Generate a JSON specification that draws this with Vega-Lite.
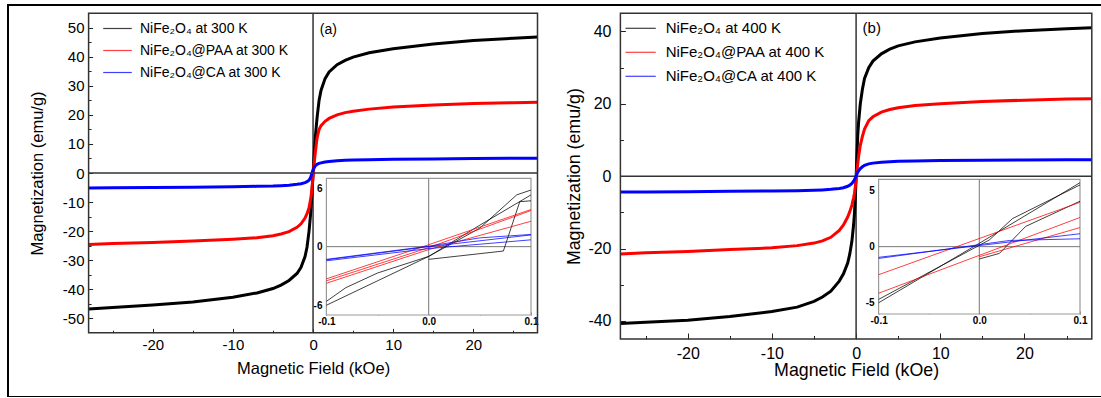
{
"$schema":"https://vega.github.io/schema/vega-lite/v6.json",
"width":1095,"height":392,
"autosize":{"type":"none"},
"padding":{"left":8,"top":5,"right":0,"bottom":0},
"background":"white",
"view":{"stroke":"#000","strokeWidth":2},
"config":{"font":"Liberation Sans",
 "locale":{"number":{"decimal":".","thousands":",","grouping":[3],"currency":["$",""],"minus":"-"}},
 "axis":{"zindex":1,"grid":false,"domain":false,"labelOverlap":false,"labelFlush":false,"tickColor":"#222","labelColor":"#000","titleColor":"#000","titleFontWeight":"normal","labelFont":"Liberation Sans","titleFont":"Liberation Sans"}},
"datasets":{
"A":[
{"s":"NiFe₂O₄ at 300 K","x":-28,"y":-46.8},{"s":"NiFe₂O₄ at 300 K","x":-25,"y":-46.3},{"s":"NiFe₂O₄ at 300 K","x":-20,"y":-45.5},{"s":"NiFe₂O₄ at 300 K","x":-15,"y":-44.4},{"s":"NiFe₂O₄ at 300 K","x":-10,"y":-42.8},{"s":"NiFe₂O₄ at 300 K","x":-7,"y":-41.3},{"s":"NiFe₂O₄ at 300 K","x":-5,"y":-39.8},{"s":"NiFe₂O₄ at 300 K","x":-4,"y":-38.6},{"s":"NiFe₂O₄ at 300 K","x":-3,"y":-37.0},{"s":"NiFe₂O₄ at 300 K","x":-2,"y":-34.6},{"s":"NiFe₂O₄ at 300 K","x":-1.5,"y":-32.5},{"s":"NiFe₂O₄ at 300 K","x":-1,"y":-28.8},{"s":"NiFe₂O₄ at 300 K","x":-0.75,"y":-25.5},{"s":"NiFe₂O₄ at 300 K","x":-0.5,"y":-20.0},{"s":"NiFe₂O₄ at 300 K","x":-0.3,"y":-14.0},{"s":"NiFe₂O₄ at 300 K","x":-0.2,"y":-10.0},{"s":"NiFe₂O₄ at 300 K","x":-0.1,"y":-5.5},{"s":"NiFe₂O₄ at 300 K","x":0,"y":-0.5},{"s":"NiFe₂O₄ at 300 K","x":0.1,"y":4.5},{"s":"NiFe₂O₄ at 300 K","x":0.2,"y":9.0},{"s":"NiFe₂O₄ at 300 K","x":0.3,"y":13.0},{"s":"NiFe₂O₄ at 300 K","x":0.5,"y":19.0},{"s":"NiFe₂O₄ at 300 K","x":0.75,"y":25.0},{"s":"NiFe₂O₄ at 300 K","x":1,"y":28.5},{"s":"NiFe₂O₄ at 300 K","x":1.5,"y":32.5},{"s":"NiFe₂O₄ at 300 K","x":2,"y":34.8},{"s":"NiFe₂O₄ at 300 K","x":3,"y":37.3},{"s":"NiFe₂O₄ at 300 K","x":4,"y":38.8},{"s":"NiFe₂O₄ at 300 K","x":5,"y":39.9},{"s":"NiFe₂O₄ at 300 K","x":7,"y":41.4},{"s":"NiFe₂O₄ at 300 K","x":10,"y":42.8},{"s":"NiFe₂O₄ at 300 K","x":15,"y":44.4},{"s":"NiFe₂O₄ at 300 K","x":20,"y":45.6},{"s":"NiFe₂O₄ at 300 K","x":25,"y":46.4},{"s":"NiFe₂O₄ at 300 K","x":28,"y":46.8},
{"s":"NiFe₂O₄@PAA at 300 K","x":-28,"y":-24.6},{"s":"NiFe₂O₄@PAA at 300 K","x":-25,"y":-24.3},{"s":"NiFe₂O₄@PAA at 300 K","x":-20,"y":-23.9},{"s":"NiFe₂O₄@PAA at 300 K","x":-15,"y":-23.4},{"s":"NiFe₂O₄@PAA at 300 K","x":-10,"y":-22.8},{"s":"NiFe₂O₄@PAA at 300 K","x":-7,"y":-22.3},{"s":"NiFe₂O₄@PAA at 300 K","x":-5,"y":-21.6},{"s":"NiFe₂O₄@PAA at 300 K","x":-4,"y":-21.0},{"s":"NiFe₂O₄@PAA at 300 K","x":-3,"y":-20.2},{"s":"NiFe₂O₄@PAA at 300 K","x":-2,"y":-18.7},{"s":"NiFe₂O₄@PAA at 300 K","x":-1.5,"y":-17.5},{"s":"NiFe₂O₄@PAA at 300 K","x":-1,"y":-15.5},{"s":"NiFe₂O₄@PAA at 300 K","x":-0.75,"y":-14.0},{"s":"NiFe₂O₄@PAA at 300 K","x":-0.5,"y":-12.0},{"s":"NiFe₂O₄@PAA at 300 K","x":-0.3,"y":-9.0},{"s":"NiFe₂O₄@PAA at 300 K","x":-0.2,"y":-7.0},{"s":"NiFe₂O₄@PAA at 300 K","x":-0.1,"y":-4.0},{"s":"NiFe₂O₄@PAA at 300 K","x":0,"y":-1.0},{"s":"NiFe₂O₄@PAA at 300 K","x":0.1,"y":2.5},{"s":"NiFe₂O₄@PAA at 300 K","x":0.2,"y":5.0},{"s":"NiFe₂O₄@PAA at 300 K","x":0.3,"y":7.5},{"s":"NiFe₂O₄@PAA at 300 K","x":0.5,"y":12.0},{"s":"NiFe₂O₄@PAA at 300 K","x":0.75,"y":15.0},{"s":"NiFe₂O₄@PAA at 300 K","x":1,"y":16.3},{"s":"NiFe₂O₄@PAA at 300 K","x":1.5,"y":17.8},{"s":"NiFe₂O₄@PAA at 300 K","x":2,"y":18.8},{"s":"NiFe₂O₄@PAA at 300 K","x":3,"y":20.0},{"s":"NiFe₂O₄@PAA at 300 K","x":4,"y":20.8},{"s":"NiFe₂O₄@PAA at 300 K","x":5,"y":21.3},{"s":"NiFe₂O₄@PAA at 300 K","x":7,"y":22.0},{"s":"NiFe₂O₄@PAA at 300 K","x":10,"y":22.7},{"s":"NiFe₂O₄@PAA at 300 K","x":15,"y":23.4},{"s":"NiFe₂O₄@PAA at 300 K","x":20,"y":23.9},{"s":"NiFe₂O₄@PAA at 300 K","x":25,"y":24.2},{"s":"NiFe₂O₄@PAA at 300 K","x":28,"y":24.4},
{"s":"NiFe₂O₄@CA at 300 K","x":-28,"y":-5.2},{"s":"NiFe₂O₄@CA at 300 K","x":-25,"y":-5.1},{"s":"NiFe₂O₄@CA at 300 K","x":-20,"y":-5.0},{"s":"NiFe₂O₄@CA at 300 K","x":-15,"y":-4.9},{"s":"NiFe₂O₄@CA at 300 K","x":-10,"y":-4.75},{"s":"NiFe₂O₄@CA at 300 K","x":-7,"y":-4.6},{"s":"NiFe₂O₄@CA at 300 K","x":-5,"y":-4.5},{"s":"NiFe₂O₄@CA at 300 K","x":-4,"y":-4.35},{"s":"NiFe₂O₄@CA at 300 K","x":-3,"y":-4.2},{"s":"NiFe₂O₄@CA at 300 K","x":-2,"y":-3.9},{"s":"NiFe₂O₄@CA at 300 K","x":-1.5,"y":-3.7},{"s":"NiFe₂O₄@CA at 300 K","x":-1,"y":-3.3},{"s":"NiFe₂O₄@CA at 300 K","x":-0.75,"y":-3.0},{"s":"NiFe₂O₄@CA at 300 K","x":-0.5,"y":-2.5},{"s":"NiFe₂O₄@CA at 300 K","x":-0.3,"y":-1.5},{"s":"NiFe₂O₄@CA at 300 K","x":-0.2,"y":-0.6},{"s":"NiFe₂O₄@CA at 300 K","x":-0.1,"y":0.3},{"s":"NiFe₂O₄@CA at 300 K","x":0,"y":1.0},{"s":"NiFe₂O₄@CA at 300 K","x":0.1,"y":1.6},{"s":"NiFe₂O₄@CA at 300 K","x":0.2,"y":2.1},{"s":"NiFe₂O₄@CA at 300 K","x":0.3,"y":2.5},{"s":"NiFe₂O₄@CA at 300 K","x":0.5,"y":3.0},{"s":"NiFe₂O₄@CA at 300 K","x":0.75,"y":3.3},{"s":"NiFe₂O₄@CA at 300 K","x":1,"y":3.5},{"s":"NiFe₂O₄@CA at 300 K","x":1.5,"y":3.8},{"s":"NiFe₂O₄@CA at 300 K","x":2,"y":3.95},{"s":"NiFe₂O₄@CA at 300 K","x":3,"y":4.2},{"s":"NiFe₂O₄@CA at 300 K","x":4,"y":4.35},{"s":"NiFe₂O₄@CA at 300 K","x":5,"y":4.45},{"s":"NiFe₂O₄@CA at 300 K","x":7,"y":4.6},{"s":"NiFe₂O₄@CA at 300 K","x":10,"y":4.7},{"s":"NiFe₂O₄@CA at 300 K","x":15,"y":4.85},{"s":"NiFe₂O₄@CA at 300 K","x":20,"y":5.0},{"s":"NiFe₂O₄@CA at 300 K","x":25,"y":5.05},{"s":"NiFe₂O₄@CA at 300 K","x":28,"y":5.1}
],
"B":[
{"s":"NiFe₂O₄ at 400 K","x":-28,"y":-40.7},{"s":"NiFe₂O₄ at 400 K","x":-25,"y":-40.4},{"s":"NiFe₂O₄ at 400 K","x":-20,"y":-39.8},{"s":"NiFe₂O₄ at 400 K","x":-15,"y":-38.8},{"s":"NiFe₂O₄ at 400 K","x":-10,"y":-37.4},{"s":"NiFe₂O₄ at 400 K","x":-7,"y":-36.2},{"s":"NiFe₂O₄ at 400 K","x":-5,"y":-34.6},{"s":"NiFe₂O₄ at 400 K","x":-4,"y":-33.4},{"s":"NiFe₂O₄ at 400 K","x":-3,"y":-31.8},{"s":"NiFe₂O₄ at 400 K","x":-2,"y":-29.0},{"s":"NiFe₂O₄ at 400 K","x":-1.5,"y":-27.0},{"s":"NiFe₂O₄ at 400 K","x":-1,"y":-24.0},{"s":"NiFe₂O₄ at 400 K","x":-0.75,"y":-21.5},{"s":"NiFe₂O₄ at 400 K","x":-0.5,"y":-18.0},{"s":"NiFe₂O₄ at 400 K","x":-0.3,"y":-13.5},{"s":"NiFe₂O₄ at 400 K","x":-0.2,"y":-10.5},{"s":"NiFe₂O₄ at 400 K","x":-0.1,"y":-6.0},{"s":"NiFe₂O₄ at 400 K","x":0,"y":-0.5},{"s":"NiFe₂O₄ at 400 K","x":0.1,"y":6.0},{"s":"NiFe₂O₄ at 400 K","x":0.2,"y":11.5},{"s":"NiFe₂O₄ at 400 K","x":0.3,"y":15.0},{"s":"NiFe₂O₄ at 400 K","x":0.5,"y":20.0},{"s":"NiFe₂O₄ at 400 K","x":0.75,"y":24.0},{"s":"NiFe₂O₄ at 400 K","x":1,"y":27.0},{"s":"NiFe₂O₄ at 400 K","x":1.5,"y":30.0},{"s":"NiFe₂O₄ at 400 K","x":2,"y":31.8},{"s":"NiFe₂O₄ at 400 K","x":3,"y":33.8},{"s":"NiFe₂O₄ at 400 K","x":4,"y":35.1},{"s":"NiFe₂O₄ at 400 K","x":5,"y":36.0},{"s":"NiFe₂O₄ at 400 K","x":7,"y":37.1},{"s":"NiFe₂O₄ at 400 K","x":10,"y":38.2},{"s":"NiFe₂O₄ at 400 K","x":15,"y":39.4},{"s":"NiFe₂O₄ at 400 K","x":20,"y":40.2},{"s":"NiFe₂O₄ at 400 K","x":25,"y":40.7},{"s":"NiFe₂O₄ at 400 K","x":28,"y":41.0},
{"s":"NiFe₂O₄@PAA at 400 K","x":-28,"y":-21.5},{"s":"NiFe₂O₄@PAA at 400 K","x":-25,"y":-21.2},{"s":"NiFe₂O₄@PAA at 400 K","x":-20,"y":-20.8},{"s":"NiFe₂O₄@PAA at 400 K","x":-15,"y":-20.3},{"s":"NiFe₂O₄@PAA at 400 K","x":-10,"y":-19.8},{"s":"NiFe₂O₄@PAA at 400 K","x":-7,"y":-19.2},{"s":"NiFe₂O₄@PAA at 400 K","x":-5,"y":-18.5},{"s":"NiFe₂O₄@PAA at 400 K","x":-4,"y":-17.9},{"s":"NiFe₂O₄@PAA at 400 K","x":-3,"y":-16.9},{"s":"NiFe₂O₄@PAA at 400 K","x":-2,"y":-15.0},{"s":"NiFe₂O₄@PAA at 400 K","x":-1.5,"y":-13.5},{"s":"NiFe₂O₄@PAA at 400 K","x":-1,"y":-11.3},{"s":"NiFe₂O₄@PAA at 400 K","x":-0.75,"y":-9.8},{"s":"NiFe₂O₄@PAA at 400 K","x":-0.5,"y":-8.0},{"s":"NiFe₂O₄@PAA at 400 K","x":-0.3,"y":-6.0},{"s":"NiFe₂O₄@PAA at 400 K","x":-0.2,"y":-4.8},{"s":"NiFe₂O₄@PAA at 400 K","x":-0.1,"y":-3.0},{"s":"NiFe₂O₄@PAA at 400 K","x":0,"y":-1.0},{"s":"NiFe₂O₄@PAA at 400 K","x":0.1,"y":1.5},{"s":"NiFe₂O₄@PAA at 400 K","x":0.2,"y":3.5},{"s":"NiFe₂O₄@PAA at 400 K","x":0.3,"y":5.5},{"s":"NiFe₂O₄@PAA at 400 K","x":0.5,"y":8.5},{"s":"NiFe₂O₄@PAA at 400 K","x":0.75,"y":11.0},{"s":"NiFe₂O₄@PAA at 400 K","x":1,"y":13.0},{"s":"NiFe₂O₄@PAA at 400 K","x":1.5,"y":15.3},{"s":"NiFe₂O₄@PAA at 400 K","x":2,"y":16.4},{"s":"NiFe₂O₄@PAA at 400 K","x":3,"y":17.7},{"s":"NiFe₂O₄@PAA at 400 K","x":4,"y":18.4},{"s":"NiFe₂O₄@PAA at 400 K","x":5,"y":18.9},{"s":"NiFe₂O₄@PAA at 400 K","x":7,"y":19.5},{"s":"NiFe₂O₄@PAA at 400 K","x":10,"y":20.0},{"s":"NiFe₂O₄@PAA at 400 K","x":15,"y":20.6},{"s":"NiFe₂O₄@PAA at 400 K","x":20,"y":21.0},{"s":"NiFe₂O₄@PAA at 400 K","x":25,"y":21.3},{"s":"NiFe₂O₄@PAA at 400 K","x":28,"y":21.4},
{"s":"NiFe₂O₄@CA at 400 K","x":-28,"y":-4.4},{"s":"NiFe₂O₄@CA at 400 K","x":-25,"y":-4.35},{"s":"NiFe₂O₄@CA at 400 K","x":-20,"y":-4.3},{"s":"NiFe₂O₄@CA at 400 K","x":-15,"y":-4.2},{"s":"NiFe₂O₄@CA at 400 K","x":-10,"y":-4.1},{"s":"NiFe₂O₄@CA at 400 K","x":-7,"y":-4.0},{"s":"NiFe₂O₄@CA at 400 K","x":-5,"y":-3.9},{"s":"NiFe₂O₄@CA at 400 K","x":-4,"y":-3.8},{"s":"NiFe₂O₄@CA at 400 K","x":-3,"y":-3.65},{"s":"NiFe₂O₄@CA at 400 K","x":-2,"y":-3.4},{"s":"NiFe₂O₄@CA at 400 K","x":-1.5,"y":-3.2},{"s":"NiFe₂O₄@CA at 400 K","x":-1,"y":-2.8},{"s":"NiFe₂O₄@CA at 400 K","x":-0.75,"y":-2.5},{"s":"NiFe₂O₄@CA at 400 K","x":-0.5,"y":-2.0},{"s":"NiFe₂O₄@CA at 400 K","x":-0.3,"y":-1.4},{"s":"NiFe₂O₄@CA at 400 K","x":-0.2,"y":-1.0},{"s":"NiFe₂O₄@CA at 400 K","x":-0.1,"y":-0.5},{"s":"NiFe₂O₄@CA at 400 K","x":0,"y":0.0},{"s":"NiFe₂O₄@CA at 400 K","x":0.1,"y":0.6},{"s":"NiFe₂O₄@CA at 400 K","x":0.2,"y":1.1},{"s":"NiFe₂O₄@CA at 400 K","x":0.3,"y":1.5},{"s":"NiFe₂O₄@CA at 400 K","x":0.5,"y":2.1},{"s":"NiFe₂O₄@CA at 400 K","x":0.75,"y":2.6},{"s":"NiFe₂O₄@CA at 400 K","x":1,"y":3.0},{"s":"NiFe₂O₄@CA at 400 K","x":1.5,"y":3.4},{"s":"NiFe₂O₄@CA at 400 K","x":2,"y":3.6},{"s":"NiFe₂O₄@CA at 400 K","x":3,"y":3.85},{"s":"NiFe₂O₄@CA at 400 K","x":4,"y":4.0},{"s":"NiFe₂O₄@CA at 400 K","x":5,"y":4.1},{"s":"NiFe₂O₄@CA at 400 K","x":7,"y":4.2},{"s":"NiFe₂O₄@CA at 400 K","x":10,"y":4.3},{"s":"NiFe₂O₄@CA at 400 K","x":15,"y":4.4},{"s":"NiFe₂O₄@CA at 400 K","x":20,"y":4.45},{"s":"NiFe₂O₄@CA at 400 K","x":25,"y":4.5},{"s":"NiFe₂O₄@CA at 400 K","x":28,"y":4.5}
],
"IA":[
{"s":"NiFe₂O₄ at 300 K","p":"a1","i":0,"x":-0.1,"y":-5.6},{"s":"NiFe₂O₄ at 300 K","p":"a1","i":1,"x":-0.081,"y":-4.2},{"s":"NiFe₂O₄ at 300 K","p":"a1","i":2,"x":-0.05,"y":-2.7},{"s":"NiFe₂O₄ at 300 K","p":"a1","i":3,"x":0,"y":-1.0},{"s":"NiFe₂O₄ at 300 K","p":"a1","i":4,"x":0.05,"y":1.9},{"s":"NiFe₂O₄ at 300 K","p":"a1","i":5,"x":0.086,"y":5.3},{"s":"NiFe₂O₄ at 300 K","p":"a1","i":6,"x":0.1,"y":5.8},
{"s":"NiFe₂O₄ at 300 K","p":"a2","i":0,"x":-0.1,"y":-6.0},{"s":"NiFe₂O₄ at 300 K","p":"a2","i":1,"x":-0.05,"y":-3.5},{"s":"NiFe₂O₄ at 300 K","p":"a2","i":2,"x":0,"y":-1.0},{"s":"NiFe₂O₄ at 300 K","p":"a2","i":3,"x":0.05,"y":2.2},{"s":"NiFe₂O₄ at 300 K","p":"a2","i":4,"x":0.1,"y":5.3},
{"s":"NiFe₂O₄ at 300 K","p":"a3","i":0,"x":0,"y":-1.3},{"s":"NiFe₂O₄ at 300 K","p":"a3","i":1,"x":0.073,"y":-0.45},{"s":"NiFe₂O₄ at 300 K","p":"a3","i":2,"x":0.089,"y":4.6},{"s":"NiFe₂O₄ at 300 K","p":"a3","i":3,"x":0.1,"y":4.7},
{"s":"NiFe₂O₄@PAA at 300 K","p":"a4","i":0,"x":-0.1,"y":-3.3},{"s":"NiFe₂O₄@PAA at 300 K","p":"a4","i":1,"x":0,"y":0.2},{"s":"NiFe₂O₄@PAA at 300 K","p":"a4","i":2,"x":0.1,"y":3.8},
{"s":"NiFe₂O₄@PAA at 300 K","p":"a5","i":0,"x":-0.1,"y":-3.5},{"s":"NiFe₂O₄@PAA at 300 K","p":"a5","i":1,"x":0,"y":-0.1},{"s":"NiFe₂O₄@PAA at 300 K","p":"a5","i":2,"x":0.05,"y":1.8},{"s":"NiFe₂O₄@PAA at 300 K","p":"a5","i":3,"x":0.1,"y":3.7},
{"s":"NiFe₂O₄@PAA at 300 K","p":"a6","i":0,"x":-0.1,"y":-3.75},{"s":"NiFe₂O₄@PAA at 300 K","p":"a6","i":1,"x":0,"y":-0.3},{"s":"NiFe₂O₄@PAA at 300 K","p":"a6","i":2,"x":0.1,"y":2.6},
{"s":"NiFe₂O₄@CA at 300 K","p":"a7","i":0,"x":-0.1,"y":-1.3},{"s":"NiFe₂O₄@CA at 300 K","p":"a7","i":1,"x":0,"y":0.05},{"s":"NiFe₂O₄@CA at 300 K","p":"a7","i":2,"x":0.05,"y":0.9},{"s":"NiFe₂O₄@CA at 300 K","p":"a7","i":3,"x":0.1,"y":1.25},
{"s":"NiFe₂O₄@CA at 300 K","p":"a8","i":0,"x":-0.1,"y":-1.45},{"s":"NiFe₂O₄@CA at 300 K","p":"a8","i":1,"x":0,"y":-0.2},{"s":"NiFe₂O₄@CA at 300 K","p":"a8","i":2,"x":0.1,"y":0.7},
{"s":"NiFe₂O₄@CA at 300 K","p":"a9","i":0,"x":-0.1,"y":-1.35},{"s":"NiFe₂O₄@CA at 300 K","p":"a9","i":1,"x":0,"y":0.0},{"s":"NiFe₂O₄@CA at 300 K","p":"a9","i":2,"x":0.1,"y":1.2}
],
"IB":[
{"s":"NiFe₂O₄ at 400 K","p":"b1","i":0,"x":-0.1,"y":-5.0},{"s":"NiFe₂O₄ at 400 K","p":"b1","i":1,"x":0,"y":0.3},{"s":"NiFe₂O₄ at 400 K","p":"b1","i":2,"x":0.1,"y":5.7},
{"s":"NiFe₂O₄ at 400 K","p":"b2","i":0,"x":-0.1,"y":-4.7},{"s":"NiFe₂O₄ at 400 K","p":"b2","i":1,"x":0.01,"y":0.6},{"s":"NiFe₂O₄ at 400 K","p":"b2","i":2,"x":0.033,"y":2.5},{"s":"NiFe₂O₄ at 400 K","p":"b2","i":3,"x":0.1,"y":5.5},
{"s":"NiFe₂O₄ at 400 K","p":"b3","i":0,"x":0,"y":-1.1},{"s":"NiFe₂O₄ at 400 K","p":"b3","i":1,"x":0.02,"y":-0.6},{"s":"NiFe₂O₄ at 400 K","p":"b3","i":2,"x":0.046,"y":1.8},{"s":"NiFe₂O₄ at 400 K","p":"b3","i":3,"x":0.1,"y":4.05},
{"s":"NiFe₂O₄@PAA at 400 K","p":"b4","i":0,"x":-0.1,"y":-2.5},{"s":"NiFe₂O₄@PAA at 400 K","p":"b4","i":1,"x":0.1,"y":3.95},
{"s":"NiFe₂O₄@PAA at 400 K","p":"b5","i":0,"x":-0.1,"y":-4.15},{"s":"NiFe₂O₄@PAA at 400 K","p":"b5","i":1,"x":0.1,"y":2.6},
{"s":"NiFe₂O₄@PAA at 400 K","p":"b6","i":0,"x":0,"y":-0.9},{"s":"NiFe₂O₄@PAA at 400 K","p":"b6","i":1,"x":0.1,"y":1.7},
{"s":"NiFe₂O₄@CA at 400 K","p":"b7","i":0,"x":-0.1,"y":-0.95},{"s":"NiFe₂O₄@CA at 400 K","p":"b7","i":1,"x":0.1,"y":1.15},
{"s":"NiFe₂O₄@CA at 400 K","p":"b8","i":0,"x":-0.1,"y":-1.05},{"s":"NiFe₂O₄@CA at 400 K","p":"b8","i":1,"x":0.03,"y":0.55},{"s":"NiFe₂O₄@CA at 400 K","p":"b8","i":2,"x":0.1,"y":0.7}
]
},
"layer":[
{
 "layer":[
  {"layer":[
   {"data":{"values":[{}]},"mark":{"type":"rule","color":"#333","strokeWidth":1.5},"encoding":{"x":{"datum":0,"type":"quantitative"},"y":{"datum":-55,"type":"quantitative"},"y2":{"datum":55}}},
   {"data":{"name":"A"},"mark":{"type":"line","strokeWidth":3},"encoding":{
     "x":{"field":"x","type":"quantitative","scale":{"domain":[-28,28],"range":[80.6,529.5],"nice":false,"zero":false},
          "axis":{"orient":"bottom","offset":-64.3,"values":[-20,-10,0,10,20],"labelOverlap":false,"tickSize":-4.3,"labelPadding":9,"labelFontSize":15,"title":"Magnetic Field (kOe)","titleFontSize":16.5,"titlePadding":8}},
     "y":{"field":"y","type":"quantitative","scale":{"domain":[-55,55],"range":[327.7,8.3],"nice":false,"zero":false},
          "axis":{"orient":"left","offset":-80.6,"values":[-50,-30,-10,10,30,50],"labelOverlap":false,"tickSize":-4,"labelPadding":8.6,"labelFontSize":15,"title":"Magnetization (emu/g)","titleFontSize":16.5,"titlePadding":17}},
     "color":{"field":"s","type":"nominal","scale":{"domain":["NiFe₂O₄ at 300 K","NiFe₂O₄@PAA at 300 K","NiFe₂O₄@CA at 300 K"],"range":["#000000","#ff0000","#0000ff"]},
          "legend":{"orient":"none","legendX":94.5,"legendY":8.5,"title":null,"symbolType":"stroke","symbolSize":818,"symbolStrokeWidth":1.2,"labelFontSize":14,"labelOffset":7.5,"padding":0,"rowPadding":-12,"labelFont":"Liberation Sans"}}}},
   {"data":{"values":[{}]},"mark":{"type":"text","fontSize":14,"text":"(a)","align":"center","baseline":"middle"},"encoding":{"x":{"datum":1.9,"type":"quantitative"},"y":{"datum":49.3,"type":"quantitative"}}}
  ]},
  {"data":{"values":[{}]},"mark":{"type":"rule","color":"#333","strokeWidth":1.5},"encoding":{
     "x":{"datum":-28,"type":"quantitative","scale":{"domain":[-28,28],"range":[80.6,529.5],"nice":false,"zero":false},"axis":null},
     "x2":{"datum":28},
     "y":{"datum":0,"type":"quantitative","scale":{"domain":[-55,55],"range":[327.7,8.3],"nice":false,"zero":false},"axis":{"orient":"left","offset":-80.6,"values":[-40,-20,0,20,40],"labelOverlap":false,"tickSize":-4,"labelPadding":8.6,"labelFontSize":15,"title":null}}}},
  {"data":{"values":[{}]},"mark":{"type":"rect","filled":false,"color":"#333","strokeWidth":1.5},"encoding":{
     "x":{"datum":-28,"type":"quantitative","scale":{"domain":[-28,28],"range":[80.6,529.5],"nice":false,"zero":false},"axis":{"orient":"bottom","offset":-64.3,"values":[-25,-15,-5,5,15,25],"tickSize":-2.5,"labels":false,"title":null}},
     "x2":{"datum":28},
     "y":{"datum":-55,"type":"quantitative","scale":{"domain":[-55,55],"range":[327.7,8.3],"nice":false,"zero":false},"axis":{"orient":"left","offset":-80.6,"values":[-45,-35,-25,-15,-5,5,15,25,35,45],"tickSize":-2.5,"labels":false,"title":null}},
     "y2":{"datum":55}}},
  {"layer":[
    {"data":{"values":[{}]},"mark":{"type":"rect","fill":"white","stroke":"#999","strokeWidth":1.2},"encoding":{
      "x":{"datum":-0.1,"type":"quantitative","scale":{"domain":[-0.1,0.1],"range":[318.4,523],"nice":false,"zero":false},"axis":{"orient":"bottom","offset":-82,"values":[-0.05,0.05],"tickSize":-2,"labels":false,"title":null,"tickColor":"#888"}},
      "x2":{"datum":0.1},
      "y":{"datum":-7,"type":"quantitative","scale":{"domain":[-7,7],"range":[310,173.3],"nice":false,"zero":false},"axis":{"orient":"left","offset":-318.4,"values":[-3,3],"tickSize":-2,"labels":false,"title":null,"tickColor":"#888"}},
      "y2":{"datum":7}}},
    {"layer":[
      {"data":{"values":[{}]},"mark":{"type":"rule","color":"#777","strokeWidth":1},"encoding":{"x":{"datum":-0.1,"type":"quantitative"},"x2":{"datum":0.1},"y":{"datum":0,"type":"quantitative"}}},
      {"data":{"values":[{}]},"mark":{"type":"rule","color":"#777","strokeWidth":1},"encoding":{"x":{"datum":0,"type":"quantitative"},"y":{"datum":-7,"type":"quantitative"},"y2":{"datum":7}}},
      {"data":{"name":"IA"},"mark":{"type":"line","strokeWidth":1,"opacity":0.75},"encoding":{
        "x":{"field":"x","type":"quantitative","scale":{"domain":[-0.1,0.1],"range":[318.4,523],"nice":false,"zero":false},"axis":{"orient":"bottom","offset":-82,"values":[-0.1,0,0.1],"labelOverlap":false,"format":".1f","tickSize":-3,"labelPadding":4,"labelFontSize":10,"labelFontWeight":"bold","title":null,"tickColor":"#888"}},
        "y":{"field":"y","type":"quantitative","scale":{"domain":[-7,7],"range":[310,173.3],"nice":false,"zero":false},"axis":{"orient":"left","offset":-318.4,"values":[-6,0,6],"labelOverlap":false,"format":"d","tickSize":-3,"labelPadding":7.4,"labelFontSize":10,"labelFontWeight":"bold","title":null,"tickColor":"#888"}},
        "color":{"field":"s","type":"nominal"},
        "detail":{"field":"p"},
        "order":{"field":"i","type":"quantitative"}}}
    ]}
   ],
   "resolve":{"scale":{"x":"independent","y":"independent"}}}
 ],
 "resolve":{"scale":{"x":"independent","y":"independent"}}
},
{
 "layer":[
  {"layer":[
   {"data":{"values":[{}]},"mark":{"type":"rule","color":"#333","strokeWidth":1.5},"encoding":{"x":{"datum":-28,"type":"quantitative"},"x2":{"datum":28},"y":{"datum":0,"type":"quantitative"}}},
   {"data":{"values":[{}]},"mark":{"type":"rule","color":"#333","strokeWidth":1.5},"encoding":{"x":{"datum":0,"type":"quantitative"},"y":{"datum":-45,"type":"quantitative"},"y2":{"datum":45}}},
   {"data":{"name":"B"},"mark":{"type":"line","strokeWidth":3},"encoding":{
     "x":{"field":"x","type":"quantitative","scale":{"domain":[-28,28],"range":[612.4,1083.8],"nice":false,"zero":false},
          "axis":{"orient":"bottom","offset":-58,"values":[-20,-10,0,10,20],"labelOverlap":false,"tickSize":-6,"labelPadding":12,"labelFontSize":16,"title":"Magnetic Field (kOe)","titleFontSize":17.8,"titlePadding":0}},
     "y":{"field":"y","type":"quantitative","scale":{"domain":[-45,45],"range":[334,8.3],"nice":false,"zero":false},
          "axis":{"orient":"left","offset":-612.4,"values":[-40,-20,0,20,40],"labelOverlap":false,"tickSize":-5,"labelPadding":14.4,"labelFontSize":16,"title":"Magnetization (emu/g)","titleFontSize":17.8,"titlePadding":4}},
     "color":{"field":"s","type":"nominal","scale":{"domain":["NiFe₂O₄ at 400 K","NiFe₂O₄@PAA at 400 K","NiFe₂O₄@CA at 400 K"],"range":["#000000","#ff0000","#0000ff"]},
          "legend":{"orient":"none","legendX":616.6,"legendY":7.3,"title":null,"symbolType":"stroke","symbolSize":918,"symbolStrokeWidth":1.2,"labelFontSize":15,"labelOffset":9.1,"padding":0,"rowPadding":-20,"labelFont":"Liberation Sans"}}}},
   {"data":{"values":[{}]},"mark":{"type":"text","fontSize":15,"text":"(b)","align":"center","baseline":"middle"},"encoding":{"x":{"datum":1.86,"type":"quantitative"},"y":{"datum":40.8,"type":"quantitative"}}}
  ]},
  {"data":{"values":[{}]},"mark":{"type":"rect","filled":false,"color":"#333","strokeWidth":1.5},"encoding":{
     "x":{"datum":-28,"type":"quantitative","scale":{"domain":[-28,28],"range":[612.4,1083.8],"nice":false,"zero":false},"axis":{"orient":"bottom","offset":-58,"values":[-25,-15,-5,5,15,25],"tickSize":-3.5,"labels":false,"title":null}},
     "x2":{"datum":28},
     "y":{"datum":-45,"type":"quantitative","scale":{"domain":[-45,45],"range":[334,8.3],"nice":false,"zero":false},"axis":{"orient":"left","offset":-612.4,"values":[-30,-10,10,30],"tickSize":-3,"labels":false,"title":null}},
     "y2":{"datum":45}}},
  {"layer":[
    {"data":{"values":[{}]},"mark":{"type":"rect","fill":"white","stroke":"#999","strokeWidth":1.2},"encoding":{
      "x":{"datum":-0.1,"type":"quantitative","scale":{"domain":[-0.1,0.1],"range":[870.6,1072],"nice":false,"zero":false},"axis":{"orient":"bottom","offset":-83,"values":[-0.05,0.05],"tickSize":-2,"labels":false,"title":null,"tickColor":"#888"}},
      "x2":{"datum":0.1},
      "y":{"datum":-6,"type":"quantitative","scale":{"domain":[-6,6],"range":[309,174.3],"nice":false,"zero":false},"axis":{"orient":"left","offset":-870.6,"values":[-2.5,2.5],"tickSize":-2,"labels":false,"title":null,"tickColor":"#888"}},
      "y2":{"datum":6}}},
    {"layer":[
      {"data":{"values":[{}]},"mark":{"type":"rule","color":"#777","strokeWidth":1},"encoding":{"x":{"datum":-0.1,"type":"quantitative"},"x2":{"datum":0.1},"y":{"datum":0,"type":"quantitative"}}},
      {"data":{"values":[{}]},"mark":{"type":"rule","color":"#777","strokeWidth":1},"encoding":{"x":{"datum":0,"type":"quantitative"},"y":{"datum":-6,"type":"quantitative"},"y2":{"datum":6}}},
      {"data":{"name":"IB"},"mark":{"type":"line","strokeWidth":1,"opacity":0.75},"encoding":{
        "x":{"field":"x","type":"quantitative","scale":{"domain":[-0.1,0.1],"range":[870.6,1072],"nice":false,"zero":false},"axis":{"orient":"bottom","offset":-83,"values":[-0.1,0,0.1],"labelOverlap":false,"format":".1f","tickSize":-3,"labelPadding":4,"labelFontSize":10,"labelFontWeight":"bold","title":null,"tickColor":"#888"}},
        "y":{"field":"y","type":"quantitative","scale":{"domain":[-6,6],"range":[309,174.3],"nice":false,"zero":false},"axis":{"orient":"left","offset":-870.6,"values":[-5,0,5],"labelOverlap":false,"format":"d","tickSize":-3,"labelPadding":7.4,"labelFontSize":10,"labelFontWeight":"bold","title":null,"tickColor":"#888"}},
        "color":{"field":"s","type":"nominal"},
        "detail":{"field":"p"},
        "order":{"field":"i","type":"quantitative"}}}
    ]}
   ],
   "resolve":{"scale":{"x":"independent","y":"independent"}}}
 ],
 "resolve":{"scale":{"x":"independent","y":"independent"}}
}
],
"resolve":{"scale":{"x":"independent","y":"independent","color":"independent"}}
}
